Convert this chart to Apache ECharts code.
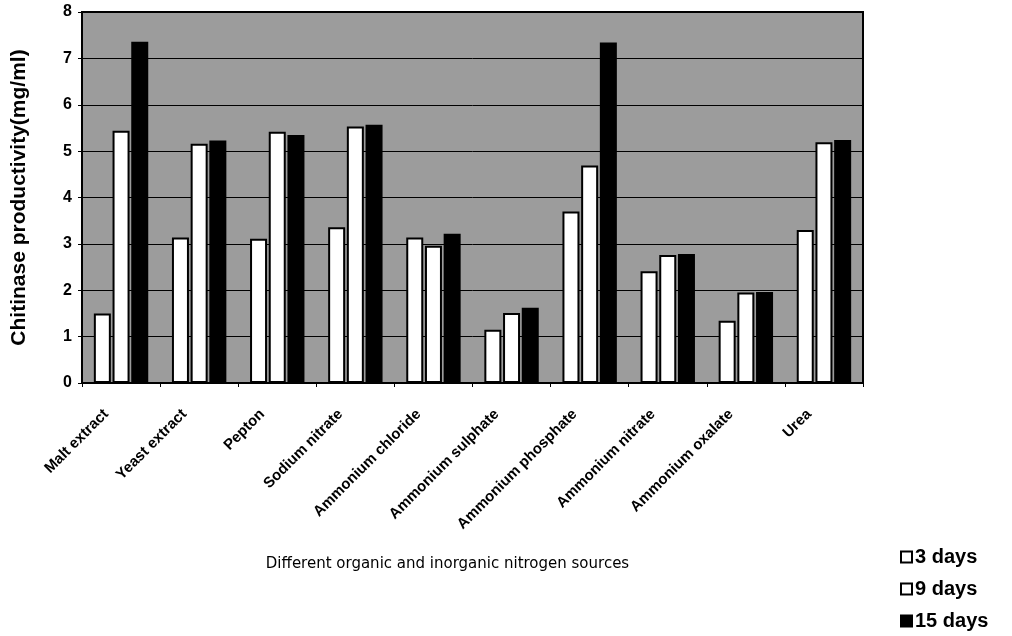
<!DOCTYPE html>
<html>
<head>
<meta charset="utf-8">
<script src="https://cdn.jsdelivr.net/npm/echarts@6/dist/echarts.min.js"></script>
<style>
  html, body { margin: 0; padding: 0; background: #fff; }
  #chart { width: 1012px; height: 636px; }
</style>
</head>
<body>
<div id="chart"></div>
<script>
// Nitrogen sources tested
const sources = [
  'Malt extract', 'Yeast extract', 'Pepton', 'Sodium nitrate', 'Ammonium chloride',
  'Ammonium sulphate', 'Ammonium phosphate', 'Ammonium nitrate', 'Ammonium oxalate', 'Urea'
];
// Chitinase productivity (mg/ml) after each incubation period
const days3  = [1.50, 3.14, 3.11, 3.36, 3.14, 1.15, 3.70, 2.41, 1.34, 3.30];
const days9  = [5.44, 5.16, 5.42, 5.53, 2.96, 1.51, 4.69, 2.76, 1.95, 5.19];
const days15 = [7.36, 5.23, 5.35, 5.57, 3.22, 1.62, 7.34, 2.78, 1.96, 5.24];
const yTicks = [0, 1, 2, 3, 4, 5, 6, 7, 8];

const font = 'Liberation Sans, Arial, sans-serif';

function barSeries(name, data, fill) {
  return {
    name: name,
    type: 'bar',
    data: data,
    barWidth: 17,
    barGap: '10%',
    itemStyle: { color: fill, borderColor: '#000', borderWidth: 2 }
  };
}

const chart = echarts.init(document.getElementById('chart'), null, { renderer: 'canvas' });
chart.setOption({
  animation: false,
  backgroundColor: '#fff',
  grid: {
    left: 82, right: 149, top: 12, bottom: 253,
    show: true,
    backgroundColor: '#9c9c9c',
    borderColor: '#000',
    borderWidth: 2
  },
  legend: {
    orient: 'vertical',
    left: 900, top: 547,
    padding: 0,
    height: 100,
    itemWidth: 11, itemHeight: 11, itemGap: 12,
    icon: 'rect',
    textStyle: { fontFamily: font, fontWeight: 'bold', fontSize: 20, color: '#000', padding: [0, 0, 0, -2] },
    data: ['3 days', '9 days', '15 days']
  },
  xAxis: {
    type: 'category',
    data: sources,
    name: 'Different organic and inorganic nitrogen sources',
    nameLocation: 'middle',
    nameGap: 174,
    nameTextStyle: { fontFamily: 'DejaVu Sans, sans-serif', fontSize: 15, color: '#000', padding: [0, 50, 0, 0] },
    axisLine: { lineStyle: { color: '#000', width: 2 } },
    axisTick: { show: true, length: 4, lineStyle: { color: '#000' } },
    axisLabel: {
      rotate: 45, interval: 0, margin: 14,
      padding: [0, 21, 0, 0],
      fontFamily: font, fontWeight: 'bold', fontSize: 15, color: '#000'
    }
  },
  yAxis: {
    type: 'value',
    min: yTicks[0], max: yTicks[yTicks.length - 1], interval: 1,
    name: 'Chitinase productivity(mg/ml)',
    nameLocation: 'middle',
    nameGap: 52,
    nameTextStyle: { fontFamily: font, fontWeight: 'bold', fontSize: 21, color: '#000' },
    axisLine: { show: true, lineStyle: { color: '#000', width: 2 } },
    axisTick: { show: true, length: 4, lineStyle: { color: '#000' } },
    axisLabel: { fontFamily: font, fontWeight: 'bold', fontSize: 16, color: '#000', margin: 10 },
    splitLine: { show: true, lineStyle: { color: '#000', width: 1 } }
  },
  series: [
    barSeries('3 days', days3, '#fff'),
    barSeries('9 days', days9, '#fff'),
    barSeries('15 days', days15, '#000')
  ]
});
</script>
</body>
</html>
